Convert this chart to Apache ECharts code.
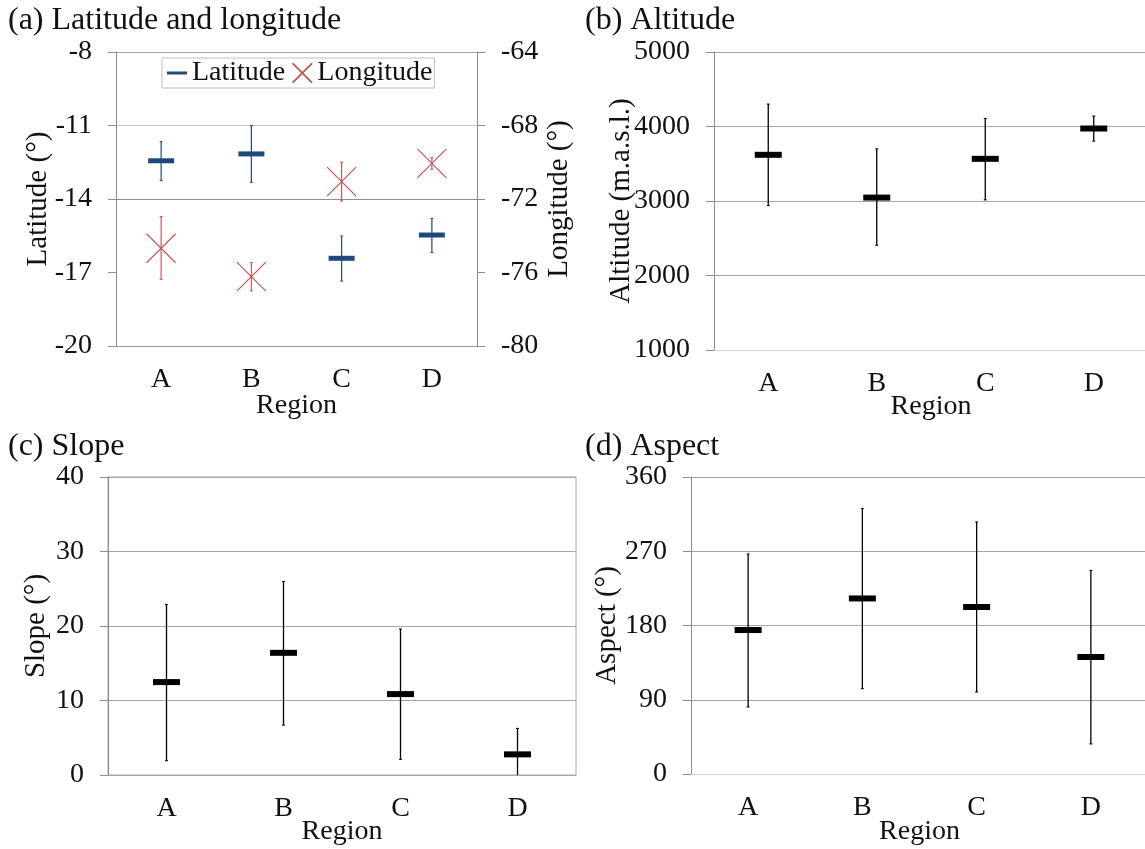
<!DOCTYPE html>
<html>
<head>
<meta charset="utf-8">
<title>Region characteristics</title>
<script src="https://cdn.jsdelivr.net/npm/echarts@6/dist/echarts.min.js"></script>
<style>
  html, body { margin: 0; padding: 0; background: #ffffff; }
  #chart { width: 1145px; height: 849px; }
</style>
</head>
<body>
<div id="chart"></div>
<script>
// Regions on the category axes
const regions = ['A', 'B', 'C', 'D'];

// (a) Latitude (°): mean with lower / upper error-bar ends
const latMean = [-12.44, -12.16, -16.42, -15.47];
const latLow  = [-13.25, -13.32, -17.35, -16.18];
const latHigh = [-11.66, -11.00, -15.51, -14.79];

// (a) Longitude (°)
const lonMean = [-74.68, -76.23, -71.06, -70.06];
const lonLow  = [-76.37, -77.00, -72.11, -70.38];
const lonHigh = [-72.96, -75.45, -70.00, -69.75];

// (b) Altitude (m a.s.l.)
const altMean = [3620, 3046, 3566, 3973];
const altLow  = [2938, 2406, 3015, 3804];
const altHigh = [4301, 3700, 4108, 4140];

// (c) Slope (°)
const slopeMean = [12.47, 16.40, 10.86, 2.77];
const slopeLow  = [1.92, 6.70, 2.10, -0.72];
const slopeHigh = [22.90, 25.96, 19.60, 6.26];

// (d) Aspect (°)
const aspectMean = [174.5, 212.8, 202.4, 141.8];
const aspectLow  = [81.2, 103.4, 99.4, 36.4];
const aspectHigh = [266.7, 321.6, 305.5, 246.8];

const FONT = "'Liberation Serif', 'Times New Roman', serif";
const TEXT = '#111111';
const AXIS_GREY = '#8c8c8c';
const GRID_GREY = '#a6a6a6';

function rows(mean, low, high) {
  return mean.map((m, i) => [i, m, low[i], high[i]]);
}

// Vertical error bar with small caps
function errorBar(x, lo, hi, color, lw) {
  return [
    { type: 'line', shape: { x1: x, y1: lo, x2: x, y2: hi }, style: { stroke: color, lineWidth: lw } },
    { type: 'line', shape: { x1: x - 1.5, y1: lo, x2: x + 1.5, y2: lo }, style: { stroke: color, lineWidth: 1 } },
    { type: 'line', shape: { x1: x - 1.5, y1: hi, x2: x + 1.5, y2: hi }, style: { stroke: color, lineWidth: 1 } }
  ];
}

// Mean drawn as a short horizontal bar over its error bar
function meanBar(color, w, h, lw) {
  return function (params, api) {
    const i = api.value(0);
    const m = api.coord([i, api.value(1)]);
    const lo = api.coord([i, api.value(2)]);
    const hi = api.coord([i, api.value(3)]);
    return {
      type: 'group',
      children: errorBar(m[0], lo[1], hi[1], color, lw).concat([
        { type: 'rect', shape: { x: m[0] - w / 2, y: m[1] - h / 2, width: w, height: h }, style: { fill: color } }
      ])
    };
  };
}

// Mean drawn as an "x" cross over its error bar
function crossMark(color, size, lw) {
  return function (params, api) {
    const i = api.value(0);
    const m = api.coord([i, api.value(1)]);
    const lo = api.coord([i, api.value(2)]);
    const hi = api.coord([i, api.value(3)]);
    const r = size / 2;
    return {
      type: 'group',
      children: errorBar(m[0], lo[1], hi[1], color, lw).concat([
        { type: 'line', shape: { x1: m[0] - r, y1: m[1] - r, x2: m[0] + r, y2: m[1] + r }, style: { stroke: color, lineWidth: lw } },
        { type: 'line', shape: { x1: m[0] - r, y1: m[1] + r, x2: m[0] + r, y2: m[1] - r }, style: { stroke: color, lineWidth: lw } }
      ])
    };
  };
}

function categoryAxis(gridIndex, nameGap, lineColor) {
  return {
    type: 'category',
    gridIndex: gridIndex,
    data: regions,
    name: 'Region',
    nameLocation: 'middle',
    nameGap: nameGap,
    nameMoveOverlap: false,
    nameTextStyle: { fontFamily: FONT, fontSize: 28, color: TEXT },
    axisLine: { show: true, lineStyle: { color: lineColor, width: 1 } },
    axisTick: { show: false },
    axisLabel: { fontFamily: FONT, fontSize: 28, color: TEXT, margin: 20 },
    splitLine: { show: false }
  };
}

function valueAxis(gridIndex, min, max, interval, name, nameGap, extra) {
  return Object.assign({
    type: 'value',
    gridIndex: gridIndex,
    min: min,
    max: max,
    interval: interval,
    name: name,
    nameLocation: 'middle',
    nameGap: nameGap,
    nameRotate: 90,
    nameMoveOverlap: false,
    nameTextStyle: { fontFamily: FONT, fontSize: 29, color: TEXT },
    axisLine: { show: true, lineStyle: { color: AXIS_GREY, width: 1 } },
    axisTick: { show: true, inside: false, length: 8, lineStyle: { color: AXIS_GREY } },
    axisLabel: {
      fontFamily: FONT, fontSize: 28, color: TEXT, margin: 24,
      formatter: (v) => String(v)
    },
    splitLine: { show: true, lineStyle: { color: GRID_GREY, width: 1 } }
  }, extra || {});
}

const titleStyle = { fontFamily: FONT, fontSize: 32, fontWeight: 'normal', color: TEXT };

const option = {
  backgroundColor: '#ffffff',
  animation: false,
  title: [
    { text: '(a) Latitude and longitude', left: 8, top: 5, padding: 0, textStyle: titleStyle },
    { text: '(b) Altitude', left: 585, top: 5, padding: 0, textStyle: titleStyle },
    { text: '(c) Slope', left: 8, top: 431, padding: 0, textStyle: titleStyle },
    { text: '(d) Aspect', left: 585, top: 431, padding: 0, textStyle: titleStyle }
  ],
  legend: {
    left: 162,
    top: 58,
    orient: 'horizontal',
    itemWidth: 20,
    itemHeight: 20,
    itemGap: 7,
    padding: [1, 2, 1, 5],
    borderColor: '#bfbfbf',
    borderWidth: 1,
    selectedMode: false,
    textStyle: { fontFamily: FONT, fontSize: 28, color: TEXT },
    data: [
      { name: 'Latitude', icon: 'path://M0,0H20V3H0Z' },
      { name: 'Longitude', icon: 'path://M0,0L1.2,0L10,8.8L18.8,0L20,0L20,1.2L11.2,10L20,18.8L20,20L18.8,20L10,11.2L1.2,20L0,20L0,18.8L8.8,10L0,1.2Z' }
    ]
  },
  grid: [
    { left: 116, top: 52, width: 361, height: 294, containLabel: false, outerBoundsMode: 'none' },
    { left: 714, top: 52, width: 434, height: 298, containLabel: false, outerBoundsMode: 'none' },
    { left: 108, top: 477, width: 468, height: 298, containLabel: false, outerBoundsMode: 'none',
      show: true, borderColor: GRID_GREY, borderWidth: 1, backgroundColor: 'transparent' },
    { left: 691, top: 477, width: 457, height: 297, containLabel: false, outerBoundsMode: 'none' }
  ],
  xAxis: [
    categoryAxis(0, 46, '#999999'),
    categoryAxis(1, 43, '#d4d4d4'),
    categoryAxis(2, 43, GRID_GREY),
    categoryAxis(3, 44, '#d4d4d4')
  ],
  yAxis: [
    valueAxis(0, -20, -8, 3, 'Latitude (°)', 63, {
      position: 'left',
      splitLine: { show: true, lineStyle: { color: ['#a6a6a6', 'rgba(0,0,0,0)', '#8f8f8f', '#c4c4c4', '#a6a6a6'], width: 1 } }
    }),
    valueAxis(0, -80, -64, 4, 'Longitude (°)', 68, {
      position: 'right',
      splitLine: { show: false }
    }),
    valueAxis(1, 1000, 5000, 1000, 'Altitude (m.a.s.l.)', 78),
    valueAxis(2, 0, 40, 10, 'Slope (°)', 57),
    valueAxis(3, 0, 360, 90, 'Aspect (°)', 69)
  ],
  series: [
    {
      type: 'custom', name: 'Latitude', xAxisIndex: 0, yAxisIndex: 0,
      itemStyle: { color: '#1F497D' },
      encode: { x: 0, y: [1, 2, 3] },
      clip: true, z: 4,
      data: rows(latMean, latLow, latHigh),
      renderItem: meanBar('#1F497D', 26, 5, 1.2)
    },
    {
      type: 'custom', name: 'Longitude', xAxisIndex: 0, yAxisIndex: 1,
      itemStyle: { color: '#C0504D' },
      encode: { x: 0, y: [1, 2, 3] },
      clip: true, z: 3,
      data: rows(lonMean, lonLow, lonHigh),
      renderItem: crossMark('#C0504D', 29, 1.1)
    },
    {
      type: 'custom', name: 'Altitude', xAxisIndex: 1, yAxisIndex: 2,
      itemStyle: { color: '#000000' },
      encode: { x: 0, y: [1, 2, 3] },
      clip: true,
      data: rows(altMean, altLow, altHigh),
      renderItem: meanBar('#000000', 27, 6, 1.3)
    },
    {
      type: 'custom', name: 'Slope', xAxisIndex: 2, yAxisIndex: 3,
      itemStyle: { color: '#000000' },
      encode: { x: 0, y: [1, 2, 3] },
      clip: true,
      data: rows(slopeMean, slopeLow, slopeHigh),
      renderItem: meanBar('#000000', 27, 6, 1.3)
    },
    {
      type: 'custom', name: 'Aspect', xAxisIndex: 3, yAxisIndex: 4,
      itemStyle: { color: '#000000' },
      encode: { x: 0, y: [1, 2, 3] },
      clip: true,
      data: rows(aspectMean, aspectLow, aspectHigh),
      renderItem: meanBar('#000000', 27, 6, 1.3)
    }
  ]
};

const chart = echarts.init(document.getElementById('chart'), null, { renderer: 'canvas' });
chart.setOption(option);
</script>
</body>
</html>
